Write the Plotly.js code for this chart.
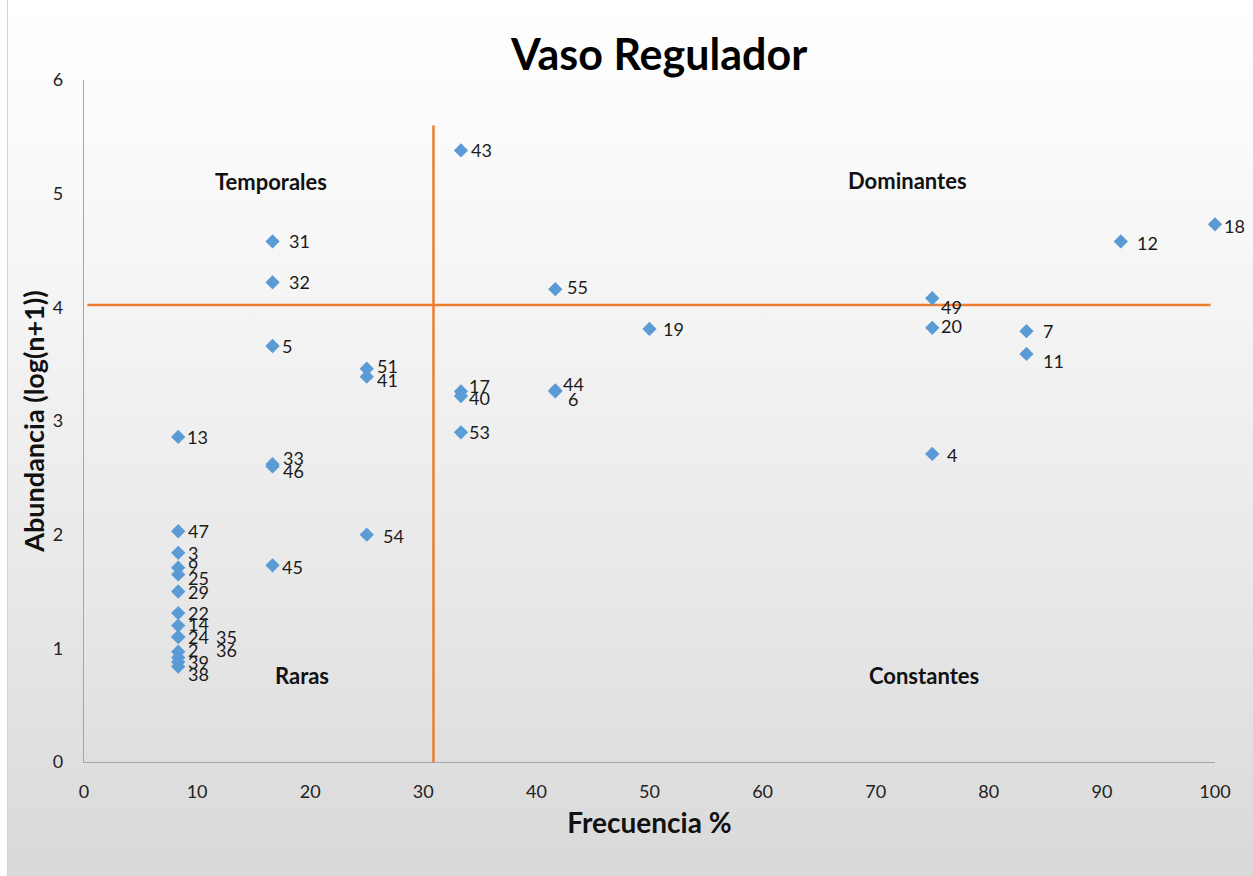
<!DOCTYPE html>
<html>
<head>
<meta charset="utf-8">
<script src="https://cdn.plot.ly/plotly-3.0.1.min.js"></script>
<style>
  html, body { margin:0; padding:0; background:#ffffff; }
  #bg { position:absolute; left:7px; top:0; width:1246px; height:876px;
        background: linear-gradient(to bottom, #ffffff 0%, #f6f6f6 30%, #e9e9e9 65%, #d9d9d9 100%);
        border-left:1px solid #d4d4d4; }
  #chart { position:absolute; left:0; top:0; width:1253px; height:876px; }
</style>
</head>
<body>
<div id="bg"></div>
<div id="chart"></div>
<script>
// Species id, frequency (%), abundance log(n+1)
const species   = ['43','31','32','5','51','41','13','33','46','47','3','9','25','29','22','14','24','35','2','36','39','38','45','54','17','40','53','44','6','55','19','49','20','4','7','11','12','18'];
const frecuencia = [33.33,16.67,16.67,16.67,25,25,8.33,16.67,16.67,8.33,8.33,8.33,8.33,8.33,8.33,8.33,8.33,8.33,8.33,8.33,8.33,8.33,16.67,25,33.33,33.33,33.33,41.67,41.67,41.67,50,75,75,75,83.33,83.33,91.67,100];
const abundancia = [5.38,4.58,4.22,3.66,3.46,3.39,2.86,2.62,2.60,2.03,1.84,1.71,1.65,1.50,1.31,1.20,1.10,1.10,0.97,0.92,0.88,0.84,1.73,2.00,3.26,3.22,2.90,3.27,3.26,4.16,3.81,4.08,3.82,2.71,3.79,3.59,4.58,4.73];

// Threshold lines
const umbralFrecuencia = 30.9;
const umbralAbundancia = 4.02;
const vLineY = [0, 5.6];
const hLineX = [0.3, 99.6];

// Quadrant labels
const cuadrantes = ['Temporales','Dominantes','Raras','Constantes'];
const cuadX = [16.5, 72.8, 19.3, 74.3];
const cuadY = [5.11, 5.12, 0.765, 0.765];

// label offsets in px [dx, dy(down)] (style only)
const labelOffsets = {
  '31':[16,0],'32':[16,0],'5':[9,0],'51':[10,-3],'41':[10,3],'13':[9,0],'33':[10,-6],'46':[10,5],
  '47':[10,0],'3':[10,0],'9':[10,-2],'25':[10,4],'29':[10,0],'22':[10,0],'14':[10,-2],'24':[10,0],
  '35':[38,0],'2':[10,-2],'36':[38,-7],'39':[10,0],'38':[10,7],'45':[9,2],'54':[16,1],'43':[10,0],
  '17':[8,-5],'40':[8,2],'53':[8,0],'44':[8,-6],'6':[13,8],'55':[12,-2],'19':[13,0],'49':[9,9],
  '20':[9,-2],'4':[15,1],'7':[17,0],'11':[17,7],'12':[16,2],'18':[9,2]
};

const FONT = 'Lato, "Open Sans", sans-serif';

const traces = [
  { x:[umbralFrecuencia, umbralFrecuencia], y:vLineY, mode:'lines', line:{color:'#ED7D31', width:2.5}, hoverinfo:'skip', showlegend:false },
  { x:hLineX, y:[umbralAbundancia, umbralAbundancia], mode:'lines', line:{color:'#ED7D31', width:2.5}, hoverinfo:'skip', showlegend:false },
  { x:frecuencia, y:abundancia, text:species, mode:'markers', type:'scatter',
    marker:{symbol:'diamond', size:11, color:'#5B9BD5'}, showlegend:false, cliponaxis:false }
];

const annotations = [];
species.forEach((s,i)=>{
  const o = labelOffsets[s] || [9,0];
  annotations.push({ x:frecuencia[i], y:abundancia[i], xref:'x', yref:'y', text:s, showarrow:false,
    xanchor:'left', yanchor:'middle', xshift:o[0]-2, yshift:-o[1],
    font:{family:FONT, size:18, color:'#1a1a1a'} });
});
cuadrantes.forEach((c,i)=>{
  annotations.push({ x:cuadX[i], y:cuadY[i], xref:'x', yref:'y', text:'<b>'+c+'</b>', showarrow:false,
    xanchor:'center', yanchor:'middle', font:{family:FONT, size:22, color:'#111'} });
});

const layout = {
  width:1253, height:876,
  paper_bgcolor:'rgba(0,0,0,0)', plot_bgcolor:'rgba(0,0,0,0)',
  margin:{l:84, r:38, t:80, b:114},
  title:{ text:'<b>Vaso Regulador</b>', x:0.526, xanchor:'center', y:0.937, yanchor:'middle',
          font:{family:FONT, size:43, color:'#000'} },
  xaxis:{ range:[0,100], tickvals:[0,10,20,30,40,50,60,70,80,90,100], showgrid:false, zeroline:false,
          showline:true, linecolor:'#a6a6a6', linewidth:1.3, ticks:'', ticklabelstandoff:13,
          tickfont:{family:FONT, size:18, color:'#222'},
          title:{ text:'<b>Frecuencia %</b>', font:{family:FONT, size:28, color:'#111'}, standoff:12 } },
  yaxis:{ range:[0,6], tickvals:[0,1,2,3,4,5,6], showgrid:false, zeroline:false,
          showline:true, linecolor:'#a6a6a6', linewidth:1.3, ticks:'', ticklabelstandoff:16,
          tickfont:{family:FONT, size:18, color:'#222'},
          title:{ text:'<b>Abundancia (log(n+1))</b>', font:{family:FONT, size:27, color:'#111'}, standoff:0 } },
  annotations:annotations,
  showlegend:false
};

Plotly.newPlot('chart', traces, layout, {displayModeBar:false, staticPlot:true});
</script>
</body>
</html>
